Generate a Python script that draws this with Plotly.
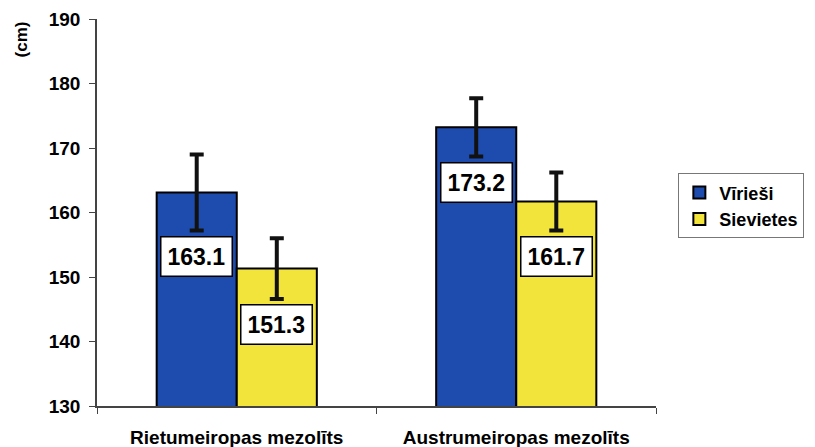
import plotly.graph_objects as go

# data
groups = ['Rietumeiropas mezolīts', 'Austrumeiropas mezolīts']
men = [163.1, 173.2]
men_err = [5.9, 4.5]
women = [151.3, 161.7]
women_err = [4.7, 4.5]
yticks = [130, 140, 150, 160, 170, 180, 190]

blue = '#1e4cae'
yellow = '#f3e43c'
fam = 'Liberation Sans, Arial, sans-serif'
font = dict(family=fam, size=17, color='black')

fig = go.Figure()
fig.add_trace(go.Bar(name='<b>Vīrieši</b>', x=groups, y=men, marker=dict(color=blue, line=dict(color='black', width=2)),
                     error_y=dict(type='data', array=men_err, color='#111', thickness=4, width=7)))
fig.add_trace(go.Bar(name='<b>Sievietes</b>', x=groups, y=women, marker=dict(color=yellow, line=dict(color='black', width=2)),
                     error_y=dict(type='data', array=women_err, color='#111', thickness=4, width=7)))

# value boxes inside the bars, just under the error bars
for i, g in enumerate(groups):
    for vals, errs, shift in [(men, men_err, -40), (women, women_err, 40)]:
        fig.add_annotation(x=g, y=vals[i] - errs[i] - 4.0, text=f'<b>{vals[i]:.1f}</b>', showarrow=False,
                           xshift=shift, bgcolor='white', bordercolor='black', borderwidth=1.5, borderpad=6,
                           font=dict(family=fam, size=23, color='black'))

fig.add_annotation(xref='paper', yref='paper', x=-0.135, y=0.946, text='<b>(cm)</b>', textangle=-90,
                   showarrow=False, xanchor='center', yanchor='middle', font=font)

# page body has an 8px margin, so the figure is a bit smaller than the window
fig.update_layout(
    width=807, height=439, barmode='group', bargap=0.427, bargroupgap=0,
    plot_bgcolor='white', paper_bgcolor='white',
    margin=dict(l=89, r=150, t=11, b=41),
    font=font,
    legend=dict(x=1.04, y=0.517, xanchor='left', yanchor='middle', bordercolor='#777', borderwidth=1,
                font=dict(family=fam, size=18, color='black'), tracegroupgap=4),
)
fig.update_xaxes(showline=True, linecolor='#444', linewidth=1.5, ticks='outside', tickson='boundaries',
                 ticklen=6, tickcolor='#444', ticklabelstandoff=13, automargin=False,
                 tickvals=groups, ticktext=[f'<b>{g}</b>' for g in groups],
                 tickfont=dict(family=fam, size=19, color='black'))
fig.update_yaxes(range=[130, 190], tickvals=yticks, ticktext=[f'<b>{t}</b>' for t in yticks],
                 showline=True, linecolor='#444', linewidth=1.5, automargin=False,
                 ticks='outside', ticklen=6, tickcolor='#444', showgrid=False, zeroline=False,
                 tickfont=dict(family=fam, size=19, color='black'), ticklabelstandoff=5)

fig.write_html("out.html")
